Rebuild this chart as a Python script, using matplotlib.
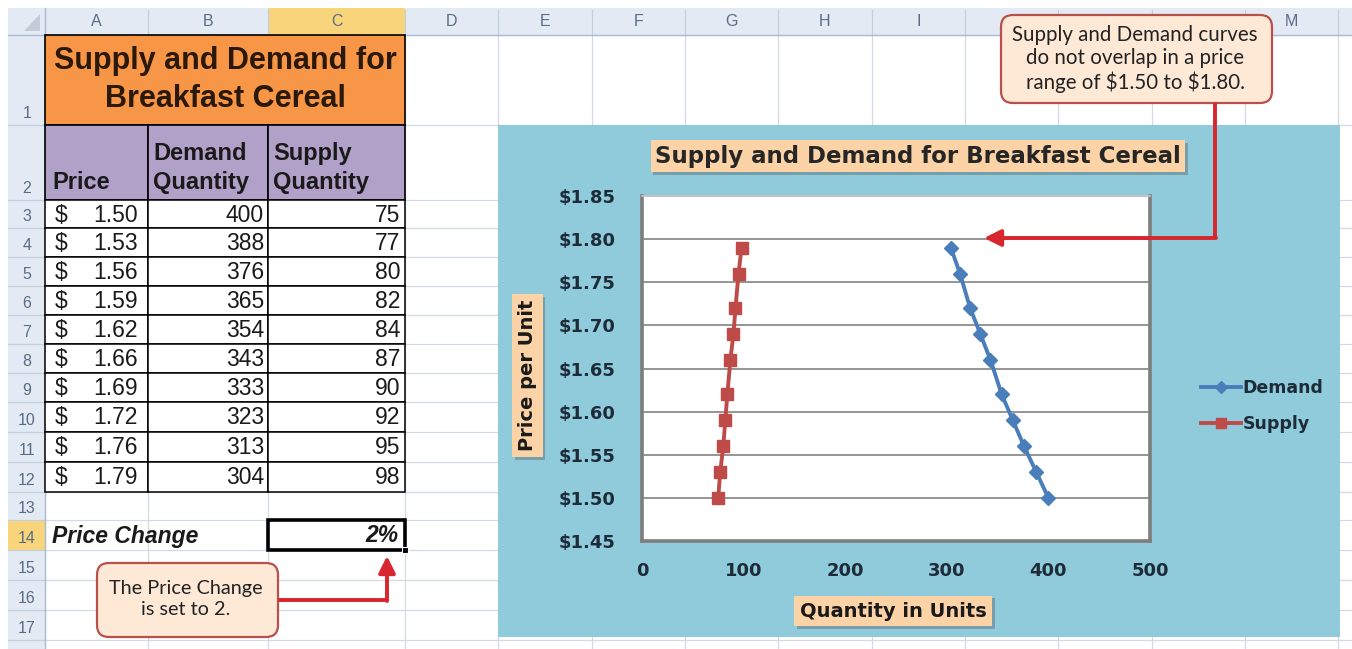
import matplotlib.pyplot as plt
import numpy as np
from matplotlib.ticker import FuncFormatter, MultipleLocator
from matplotlib.patches import Rectangle, FancyBboxPatch, Polygon
from matplotlib import patheffects as pe

# Price schedule for the cereal worksheet
prices = [1.50, 1.53, 1.56, 1.59, 1.62, 1.66, 1.69, 1.72, 1.76, 1.79]
demand_qty = [400, 388, 376, 365, 354, 343, 333, 323, 313, 304]
supply_qty = [75, 77, 80, 82, 84, 87, 90, 92, 95, 98]
price_change = 2  # percent

col_letters = ["A", "B", "C", "D", "E", "F", "G", "H", "I", "J", "K", "L", "M"]

# sheet geometry in pixels (origin top-left)
W, H = 1352, 649
col_edges = [45, 148, 268, 405, 498, 592, 685, 778, 872, 965, 1058, 1152, 1245, 1338]
row_edges = [35, 125, 200, 228, 257, 286, 315, 344, 373, 402, 432, 462, 492,
             520, 550, 580, 610, 640]

# note box over the column headers (x0, y0, x1, y1)
note_box = (1001, 15, 1272, 103)

grid_col = "#d4dae4"
head_col = "#e3eaf3"
head_line = "#a9bcd2"
sel_col = "#f8d57a"
orange = "#f79646"
purple = "#b1a0c7"
chart_bg = "#90cbdc"
peach = "#fcd3a6"
red = "#d8262e"
blue = "#4a7ebb"
brick = "#be4b48"
ink = "#1e2b38"

SANS = "Liberation Sans"
VERD = "DejaVu Sans"
CAL = "Lato"


def px_rect(x0, y0, x1, y1):
    return [x0 / W, 1 - y1 / H, (x1 - x0) / W, (y1 - y0) / H]


def dollar_fmt(value, pos):
    return f"${value:.2f}"


fig = plt.figure(figsize=(W / 100, H / 100), dpi=100)
fig.patch.set_facecolor("white")

# ---- worksheet layer ----
sheet = fig.add_axes([0, 0, 1, 1])
sheet.set_xlim(0, W)
sheet.set_ylim(H, 0)
sheet.axis("off")

for x in col_edges:
    sheet.plot([x, x], [35, H], color=grid_col, lw=0.9, zorder=1)
for y in row_edges:
    sheet.plot([45, W], [y, y], color=grid_col, lw=0.9, zorder=1)

# column headers
sheet.add_patch(Rectangle((8, 8), W - 8, 27, fc=head_col, ec="none", zorder=2))
sheet.add_patch(Rectangle((col_edges[2], 8), col_edges[3] - col_edges[2], 27,
                          fc=sel_col, ec="none", zorder=2))
for i, letter in enumerate(col_letters):
    x0, x1 = col_edges[i], col_edges[i + 1]
    sheet.plot([x1, x1], [10, 35], color="#c3cfde", lw=0.9, zorder=3)
    xc = (x0 + x1) / 2
    if note_box[0] - 10 < xc < note_box[2] + 10:
        continue  # hidden behind the note
    sheet.text(xc, 21, letter, ha="center", va="center",
               fontsize=11.5, family=SANS, color="#5a6d86", zorder=3)
sheet.plot([8, W], [35, 35], color=head_line, lw=1, zorder=3)

# row headers
sheet.add_patch(Rectangle((8, 35), 37, H - 35, fc=head_col, ec="none", zorder=2))
sheet.add_patch(Rectangle((8, row_edges[13]), 37, row_edges[14] - row_edges[13],
                          fc=sel_col, ec="none", zorder=2))
for i in range(len(row_edges) - 1):
    top, bot = row_edges[i], row_edges[i + 1]
    sheet.plot([8, 45], [bot, bot], color="#c3cfde", lw=0.9, zorder=3)
    sheet.text(27, bot - 4, str(i + 1), ha="center", va="bottom",
               fontsize=11.5, family=SANS, color="#5a6d86", zorder=3)
sheet.plot([45, 45], [8, H], color=head_line, lw=1, zorder=3)
sheet.add_patch(Polygon([[40, 14], [40, 31], [24, 31]], closed=True,
                        fc="#c2ccd8", ec="none", zorder=3))

# title block
sheet.add_patch(Rectangle((45, 35), col_edges[3] - 45, 90, fc=orange,
                          ec="black", lw=1.2, zorder=4))
sheet.text((45 + col_edges[3]) / 2, 80, "Supply and Demand for\nBreakfast Cereal",
           ha="center", va="center", fontsize=22, fontweight="bold",
           family=SANS, color="#2a1808", linespacing=1.33, zorder=5)

# header row
for i in range(3):
    sheet.add_patch(Rectangle((col_edges[i], 125), col_edges[i + 1] - col_edges[i], 75,
                              fc=purple, ec="black", lw=1.2, zorder=4))
sheet.text(52, 194, "Price", ha="left", va="bottom", fontsize=17,
           fontweight="bold", family=SANS, color="#1a1a1a", zorder=5)
sheet.text(153, 194, "Demand\nQuantity", ha="left", va="bottom", fontsize=17,
           fontweight="bold", family=SANS, color="#1a1a1a", linespacing=1.35, zorder=5)
sheet.text(273, 194, "Supply\nQuantity", ha="left", va="bottom", fontsize=17,
           fontweight="bold", family=SANS, color="#1a1a1a", linespacing=1.35, zorder=5)

# data rows
for r, (p, d, s) in enumerate(zip(prices, demand_qty, supply_qty)):
    top, bot = row_edges[r + 2], row_edges[r + 3]
    yc = (top + bot) / 2 + 1
    for i in range(3):
        sheet.add_patch(Rectangle((col_edges[i], top), col_edges[i + 1] - col_edges[i],
                                  bot - top, fc="white", ec="black", lw=1.1, zorder=4))
    sheet.text(55, yc, "$", ha="left", va="center", fontsize=16.5, family=SANS,
               color="#1a1a1a", zorder=5)
    sheet.text(138, yc, f"{p:.2f}", ha="right", va="center", fontsize=16.5,
               family=SANS, color="#1a1a1a", zorder=5)
    sheet.text(264, yc, f"{d}", ha="right", va="center", fontsize=16.5,
               family=SANS, color="#1a1a1a", zorder=5)
    sheet.text(400, yc, f"{s}", ha="right", va="center", fontsize=16.5,
               family=SANS, color="#1a1a1a", zorder=5)

# price change input
y14 = (row_edges[13] + row_edges[14]) / 2 + 1
sheet.text(52, y14, "Price Change", ha="left", va="center", fontsize=16.5,
           fontweight="bold", style="italic", family=SANS, color="#1a1a1a", zorder=5)
sheet.add_patch(Rectangle((col_edges[2], row_edges[13]), col_edges[3] - col_edges[2],
                          row_edges[14] - row_edges[13], fc="white", ec="black",
                          lw=2.6, zorder=4))
sheet.add_patch(Rectangle((col_edges[3] - 3, row_edges[14] - 3), 6, 6, fc="black",
                          ec="white", lw=0.8, zorder=5))
sheet.text(398, y14, f"{price_change}%", ha="right", va="center", fontsize=16.5,
           fontweight="bold", style="italic", family=SANS, color="#1a1a1a", zorder=5)

# chart area
sheet.add_patch(Rectangle((498, 125), 842, 512, fc=chart_bg, ec="none", zorder=6))
title = sheet.text(918, 156, "Supply and Demand for Breakfast Cereal", ha="center",
                   va="center", fontsize=16.5, fontweight="bold", family=VERD,
                   color="#262626", zorder=7,
                   bbox=dict(boxstyle="square,pad=0.2", fc=peach, ec="none"))
title.get_bbox_patch().set_path_effects(
    [pe.withSimplePatchShadow(offset=(2, -2), shadow_rgbFace="#5a6a70", alpha=0.45)])

# ---- chart ----
ax = fig.add_axes(px_rect(642, 196, 1150, 541))
ax.set_facecolor("white")
ax.plot(demand_qty, prices, color=blue, lw=2.8, marker="D", markersize=7,
        label="Demand", zorder=3)
ax.plot(supply_qty, prices, color=brick, lw=2.8, marker="s", markersize=8,
        label="Supply", zorder=3)

ax.set_xlim(0, 500)
ax.set_ylim(1.45, 1.85)
ax.xaxis.set_major_locator(MultipleLocator(100))
ax.yaxis.set_major_locator(MultipleLocator(0.05))
ax.yaxis.set_major_formatter(FuncFormatter(dollar_fmt))
ax.grid(axis="y", color="#8c8c8c", lw=1.3, zorder=1)
ax.set_axisbelow(True)
ax.tick_params(axis="both", length=0, labelsize=13, labelcolor=ink)
ax.tick_params(axis="y", pad=19)
ax.tick_params(axis="x", pad=15)
for lab in ax.get_xticklabels() + ax.get_yticklabels():
    lab.set_fontweight("bold")
    lab.set_family(VERD)
for side in ["left", "bottom", "right"]:
    ax.spines[side].set_color("#7d7d7d")
    ax.spines[side].set_linewidth(2.6)
ax.spines["top"].set_color("#c8c8c8")
ax.spines["top"].set_linewidth(1.2)

box = dict(boxstyle="square,pad=0.3", fc=peach, ec="none")
ylab = ax.set_ylabel("Price per Unit", fontsize=14, fontweight="bold", family=VERD,
                     color="#1a1a1a", va="center", bbox=box)
ax.yaxis.set_label_coords(-0.226, 0.48)
xlab = ax.set_xlabel("Quantity in Units", fontsize=14, fontweight="bold", family=VERD,
                     color="#1a1a1a", va="center", bbox=box)
ax.xaxis.set_label_coords(0.494, -0.203)
for lab in (ylab, xlab):
    lab.get_bbox_patch().set_path_effects(
        [pe.withSimplePatchShadow(offset=(2, -2), shadow_rgbFace="#5a6a70", alpha=0.45)])

leg = ax.legend(loc="center left", bbox_to_anchor=(1185 / W, 1 - 406 / H),
                bbox_transform=fig.transFigure, frameon=False, handlelength=2.3,
                handletextpad=0.1, labelspacing=1.0, markerscale=0.85,
                prop=dict(family=VERD, weight="bold", size=12.5))
for t in leg.get_texts():
    t.set_color(ink)

# ---- callouts on top ----
over = fig.add_axes([0, 0, 1, 1], zorder=10)
over.set_xlim(0, W)
over.set_ylim(H, 0)
over.axis("off")
over.patch.set_alpha(0)

nx0, ny0, nx1, ny1 = note_box
over.add_patch(FancyBboxPatch((nx0, ny0), nx1 - nx0, ny1 - ny0,
                              boxstyle="round,pad=0,rounding_size=12",
                              fc="#fde9d6", ec="#b9504b", lw=1.6))
over.text(1135, 59, "Supply and Demand curves\ndo not overlap in a price\nrange of \\$1.50 to \\$1.80.",
          ha="center", va="center", fontsize=14.8, family=CAL, color="#222222",
          linespacing=1.22)
over.plot([1215, 1215], [ny1, 238], color=red, lw=2.8, solid_capstyle="butt")
over.annotate("", xy=(984, 238), xytext=(1216, 238),
              arrowprops=dict(arrowstyle="-|>,head_length=1.0,head_width=0.5",
                              color=red, lw=2.8, shrinkA=0, shrinkB=0))

over.add_patch(FancyBboxPatch((97, 563), 181, 74, boxstyle="round,pad=0,rounding_size=12",
                              fc="#fde9d6", ec="#b9504b", lw=1.6))
over.text(186, 599, "The Price Change\nis set to 2.", ha="center", va="center",
          fontsize=14.3, family=CAL, color="#222222", linespacing=1.22)
over.plot([278, 387], [600, 600], color=red, lw=2.8, solid_capstyle="butt")
over.annotate("", xy=(387, 556), xytext=(387, 601),
              arrowprops=dict(arrowstyle="-|>,head_length=1.0,head_width=0.5",
                              color=red, lw=2.8, shrinkA=0, shrinkB=0))

fig.savefig("out.png", dpi=100)
